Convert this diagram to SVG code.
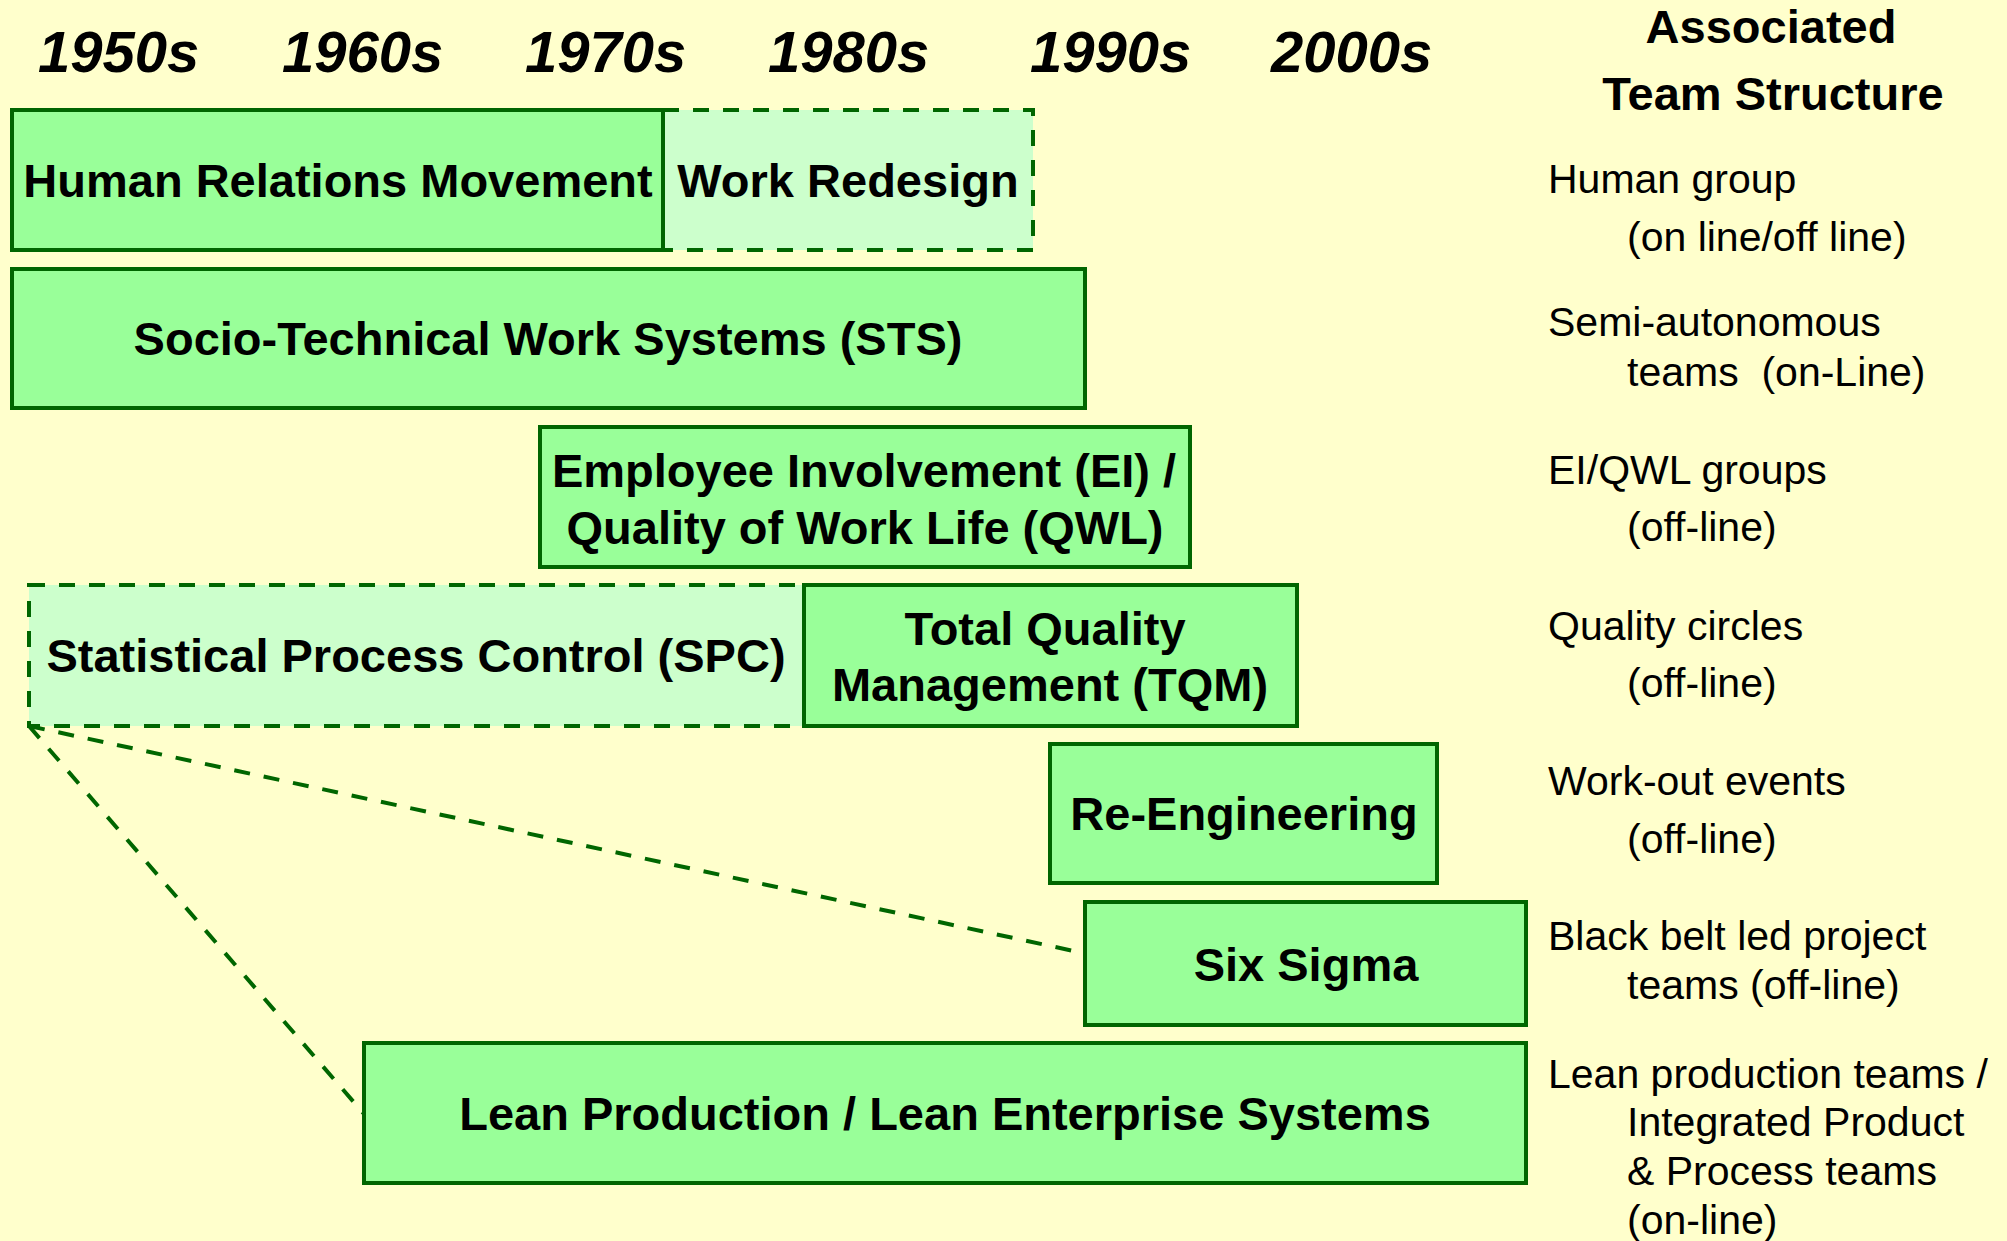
<svg xmlns="http://www.w3.org/2000/svg" width="2007" height="1241" viewBox="0 0 2007 1241">
<style>
.bg{fill:#FFFFCC}
.solid{fill:#99FF99;stroke:#006600;stroke-width:4}
.dash{fill:#CCFFCC;stroke:#006600;stroke-width:4;stroke-dasharray:16 14}
.lbl{font-family:"Liberation Sans",Arial,sans-serif;font-weight:bold;font-size:47px;fill:#000;text-anchor:middle}
.yr{font-family:"Liberation Sans",Arial,sans-serif;font-weight:bold;font-style:italic;font-size:58px;fill:#000}
.hdr{font-family:"Liberation Sans",Arial,sans-serif;font-weight:bold;font-size:47px;fill:#000;text-anchor:middle}
.rt{font-family:"Liberation Sans",Arial,sans-serif;font-size:41px;fill:#000}
.conn{fill:none;stroke:#006600;stroke-width:4;stroke-dasharray:16 14}
</style>
<rect class="bg" x="0" y="0" width="2007" height="1241"/>
<g id="years">
<text class="yr" x="38" y="72">1950s</text>
<text class="yr" x="282" y="72">1960s</text>
<text class="yr" x="525" y="72">1970s</text>
<text class="yr" x="768" y="72">1980s</text>
<text class="yr" x="1030" y="72">1990s</text>
<text class="yr" x="1271" y="72">2000s</text>
</g>
<g id="header">
<text class="hdr" x="1771" y="43">Associated</text>
<text class="hdr" x="1773" y="110">Team Structure</text>
</g>
<g id="connectors">
<line class="conn" x1="29" y1="726" x2="1083" y2="953"/>
<line class="conn" x1="29" y1="726" x2="364" y2="1114"/>
</g>
<g id="work-redesign">
<rect class="dash" x="663" y="110" width="370" height="140"/>
<text class="lbl" x="848" y="197">Work Redesign</text>
</g>
<g id="human-relations">
<rect class="solid" x="12" y="110" width="651" height="140"/>
<text class="lbl" x="338" y="197">Human Relations Movement</text>
</g>
<g id="sts">
<rect class="solid" x="12" y="269" width="1073" height="139"/>
<text class="lbl" x="548" y="355">Socio-Technical Work Systems (STS)</text>
</g>
<g id="ei-qwl">
<rect class="solid" x="540" y="427" width="650" height="140"/>
<text class="lbl" x="864" y="487">Employee Involvement (EI) /</text>
<text class="lbl" x="865" y="544">Quality of Work Life (QWL)</text>
</g>
<g id="spc">
<rect class="dash" x="29" y="585" width="775" height="141"/>
<text class="lbl" x="416" y="672">Statistical Process Control (SPC)</text>
</g>
<g id="tqm">
<rect class="solid" x="804" y="585" width="493" height="141"/>
<text class="lbl" x="1045" y="645">Total Quality</text>
<text class="lbl" x="1050" y="701">Management (TQM)</text>
</g>
<g id="re-engineering">
<rect class="solid" x="1050" y="744" width="387" height="139"/>
<text class="lbl" x="1244" y="830">Re-Engineering</text>
</g>
<g id="six-sigma">
<rect class="solid" x="1085" y="902" width="441" height="123"/>
<text class="lbl" x="1306" y="981">Six Sigma</text>
</g>
<g id="lean">
<rect class="solid" x="364" y="1043" width="1162" height="140"/>
<text class="lbl" x="945" y="1130">Lean Production / Lean Enterprise Systems</text>
</g>
<g id="team-structures">
<text class="rt" x="1548" y="193">Human group</text>
<text class="rt" x="1627" y="251">(on line/off line)</text>
<text class="rt" x="1548" y="336">Semi-autonomous</text>
<text class="rt" x="1627" y="386" xml:space="preserve">teams  (on-Line)</text>
<text class="rt" x="1548" y="484">EI/QWL groups</text>
<text class="rt" x="1627" y="541">(off-line)</text>
<text class="rt" x="1548" y="640">Quality circles</text>
<text class="rt" x="1627" y="697">(off-line)</text>
<text class="rt" x="1548" y="795">Work-out events</text>
<text class="rt" x="1627" y="853">(off-line)</text>
<text class="rt" x="1548" y="950">Black belt led project</text>
<text class="rt" x="1627" y="999">teams (off-line)</text>
<text class="rt" x="1548" y="1088">Lean production teams /</text>
<text class="rt" x="1627" y="1136">Integrated Product</text>
<text class="rt" x="1627" y="1185">&amp; Process teams</text>
<text class="rt" x="1627" y="1234">(on-line)</text>
</g>
</svg>
